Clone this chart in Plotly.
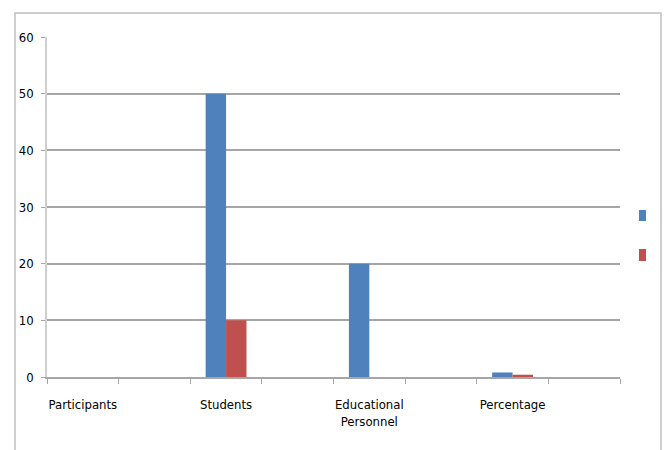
import plotly.graph_objects as go

# Category slots: labels on every other slot, empty slots in between
categories = ["Participants", "", "Students", " ", "Educational<br>Personnel", "  ", "Percentage", "   "]
series_a = [0, 0, 50, 0, 20, 0, 0.8, 0]
series_b = [0, 0, 10, 0, 0, 0, 0.4, 0]
y_ticks = [0, 10, 20, 30, 40, 50, 60]

BLUE = "#4F81BD"
RED = "#C0504D"
GRID = "#A6A6A6"
FONT = "DejaVu Sans Condensed, Liberation Sans, Arial, sans-serif"

fig = go.Figure()
fig.add_trace(go.Bar(x=categories, y=series_a, marker=dict(color=BLUE, line=dict(width=0)), showlegend=False))
fig.add_trace(go.Bar(x=categories, y=series_b, marker=dict(color=RED, line=dict(width=0)), showlegend=False))

W, H = 665, 450
L, R, T, B = 47, 45, 37, 73

fig.update_layout(
    width=W, height=H,
    margin=dict(l=L, r=R, t=T, b=B),
    paper_bgcolor="white", plot_bgcolor="white",
    barmode="group", bargap=0.43, bargroupgap=0,
    font=dict(family=FONT, size=13, color="#000000"),
    xaxis=dict(
        type="category", categoryorder="array", categoryarray=categories,
        tickson="boundaries", ticks="outside", ticklen=5, tickcolor=GRID, tickwidth=1,
        showline=True, linecolor=GRID, linewidth=1.5,
        showgrid=False, fixedrange=True, tickangle=0, automargin=False,
        ticklabelstandoff=15,
        tickfont=dict(family=FONT, size=13),
    ),
    yaxis=dict(
        range=[0, 60], tickvals=y_ticks,
        ticks="outside", ticklen=4, tickcolor=GRID,
        showgrid=True, gridcolor=GRID, gridwidth=1.5,
        showline=True, linecolor="#CFCFCF", linewidth=1.5,
        zeroline=False, ticklabelstandoff=5, automargin=False,
        tickfont=dict(family=FONT, size=13),
    ),
    shapes=[
        # outer chart frame
        dict(type="rect", xref="paper", yref="paper",
             x0=(15 - L) / (W - L - R), x1=(661 - L) / (W - L - R),
             y0=-(460 - (H - B)) / (H - T - B), y1=((H - B) - 13) / (H - T - B),
             line=dict(color="#BFBFBF", width=1.5), fillcolor="rgba(0,0,0,0)", layer="below"),
        # legend keys
        dict(type="rect", xref="paper", yref="paper",
             x0=(639 - L) / (W - L - R), x1=(646 - L) / (W - L - R),
             y0=((H - B) - 221) / (H - T - B), y1=((H - B) - 210) / (H - T - B),
             line=dict(width=0), fillcolor=BLUE),
        dict(type="rect", xref="paper", yref="paper",
             x0=(639 - L) / (W - L - R), x1=(646 - L) / (W - L - R),
             y0=((H - B) - 261) / (H - T - B), y1=((H - B) - 249) / (H - T - B),
             line=dict(width=0), fillcolor=RED),
    ],
)

fig.write_html("out.html")
